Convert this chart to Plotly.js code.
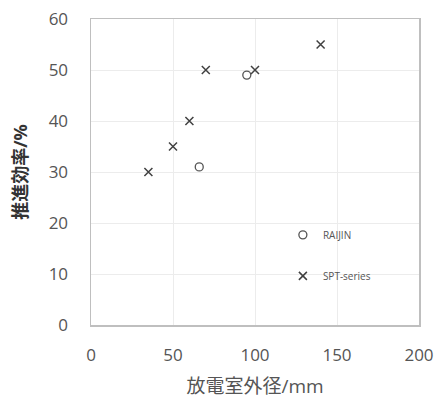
<!DOCTYPE html>
<html><head><meta charset="utf-8">
<script src="https://cdn.plot.ly/plotly-3.0.1.min.js"></script>
<style>html,body{margin:0;padding:0;background:#fff}#c{width:446px;height:399px}</style>
</head><body><div id="c"></div>
<script>
const raijinX = [66, 95];
const raijinY = [31, 49];
const sptX = [35, 50, 60, 70, 100, 140];
const sptY = [30, 35, 40, 50, 50, 55];
const xTitle = "放電室外径/mm";
const yTitle = "<b>推進効率/%</b>";

const fam = '"Open Sans", "Noto Sans CJK JP", sans-serif';
const data = [
  {x: raijinX, y: raijinY, name: "RAIJIN", legendgroup: "a", type: "scatter", mode: "markers",
   marker: {symbol: "circle-open", size: 8, color: "#555", line: {width: 1.3, color: "#555"}}},
  {x: sptX, y: sptY, name: "SPT-series", legendgroup: "b", type: "scatter", mode: "markers",
   marker: {symbol: "x-thin-open", size: 8, color: "#404040", line: {width: 1.5, color: "#404040"}}}
];
const layout = {
  width: 446, height: 399,
  margin: {l: 91, r: 27, t: 19, b: 74},
  paper_bgcolor: "#fff", plot_bgcolor: "#fff",
  showlegend: true,
  legend: {x: 0.585, y: 0.342, xanchor: "left", yanchor: "top", bgcolor: "rgba(0,0,0,0)",
    font: {family: fam, size: 10, color: "#555"}, tracegroupgap: 22, itemwidth: 30, traceorder: "grouped"},
  xaxis: {range: [0, 200], dtick: 50, showgrid: true, gridcolor: "#ececec", gridwidth: 1,
    zeroline: false, showline: true, linecolor: "#bfbfbf", linewidth: 1.5, mirror: true,
    ticks: "", ticklabelstandoff: 14,
    tickfont: {family: fam, size: 17, color: "#555"},
    title: {text: xTitle, standoff: 18, font: {family: fam, size: 19, color: "#555"}}},
  yaxis: {range: [0, 60], dtick: 10, showgrid: true, gridcolor: "#ececec", gridwidth: 1,
    zeroline: false, showline: true, linecolor: "#bfbfbf", linewidth: 1.5, mirror: true,
    ticks: "", ticklabelstandoff: 18,
    tickfont: {family: fam, size: 17, color: "#555"},
    title: {text: yTitle, standoff: 16, font: {family: fam, size: 18, color: "#333"}}}
};
Plotly.newPlot("c", data, layout, {displayModeBar: false, staticPlot: true});
</script></body></html>
